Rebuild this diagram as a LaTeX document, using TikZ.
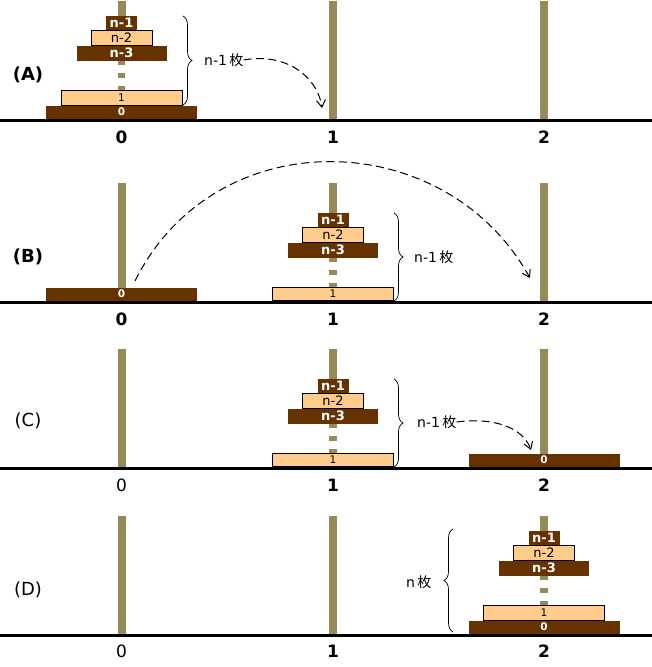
\documentclass[tikz,border=0pt]{standalone}
\usepackage{fontspec}
\setmainfont{DejaVu Sans}
\newfontfamily\jp{Noto Sans CJK JP}
\usetikzlibrary{arrows.meta,decorations.pathreplacing}
\definecolor{dk}{HTML}{663300}
\definecolor{lt}{HTML}{FFCC8C}
\definecolor{pegc}{HTML}{968A57}
\tikzset{
  disc/.style={inner sep=0pt, outer sep=0pt, anchor=north, minimum height=15pt},
  darkdisc/.style={disc, fill=dk, text=white, font=\fontsize{13}{13}\selectfont\bfseries},
  lightdisc/.style={disc, fill=lt, draw=black, line width=0.6pt, text=black, font=\fontsize{13}{13}\selectfont},
  smalllab/.style={font=\fontsize{10.5}{10.5}\selectfont\bfseries},
  smalllabr/.style={font=\fontsize{10.5}{10.5}\selectfont},
  pegdash/.style={draw=pegc, line width=7.5pt, dash pattern=on 5pt off 8pt},
  ground/.style={draw=black, line width=3pt},
  numlab/.style={font=\fontsize{17}{17}\selectfont\bfseries},
  numlabr/.style={font=\fontsize{17}{17}\selectfont},
  panlab/.style={font=\fontsize{18}{18}\selectfont\bfseries},
  panlabr/.style={font=\fontsize{18}{18}\selectfont},
  bracestyle/.style={draw=black, line width=0.7pt, decorate, decoration={brace, amplitude=9pt}},
  note/.style={anchor=west, inner sep=0pt, font=\fontsize{14}{14}\selectfont},
  movearrow/.style={draw=black, line width=1pt, dash pattern=on 8pt off 4.5pt, -{Straight Barb[length=7pt,width=9pt]}}
}
\begin{document}
\begin{tikzpicture}[x=1pt, y=-1pt]
\useasboundingbox (0,0) rectangle (652,667);
\fill[white] (0,0) rectangle (652,667);

% ================= Panel A (baseline 120) =================
\fill[pegc] (117.5,1) rectangle (125.5,60.5);
\draw[pegdash] (121.5,90.5) -- (121.5,60.5);
\fill[pegc] (329,1) rectangle (337,120);
\fill[pegc] (540,1) rectangle (548,120);
\draw[ground] (0,120) -- (652,120);
\node[darkdisc, minimum width=31pt] (a-n1) at (121.5,15.5) {n-1};
\node[lightdisc, minimum width=61pt] (a-n2) at (121.5,30.5) {n-2};
\node[darkdisc, minimum width=90pt] (a-n3) at (121.5,45.5) {n-3};
\node[lightdisc, minimum width=121pt, smalllabr] (a-d1) at (121.5,90.5) {1};
\node[darkdisc, minimum width=151pt, minimum height=13pt, smalllab] (a-d0) at (121.5,105.5) {0};
\node[numlab] (a-l0) at (121.5,137) {0};
\node[numlab] (a-l1) at (333,137) {1};
\node[numlab] (a-l2) at (544,137) {2};
\node[panlab] (a-lab) at (28,75) {(A)};
\draw[bracestyle] (183,16) -- (183,105);
\node[note] (a-t) at (204,60) {n-1\,{\jp 枚}};
\coordinate (a-e) at (322,108);
\draw[movearrow] (a-t.east) .. controls (287,52) and (318,78) .. (a-e);

% ================= Panel B (baseline 302) =================
\fill[pegc] (117.5,183) rectangle (125.5,302);
\fill[pegc] (329,183) rectangle (337,242.5);
\draw[pegdash] (333,287.5) -- (333,257.5);
\fill[pegc] (540,183) rectangle (548,302);
\draw[ground] (0,302) -- (652,302);
\node[darkdisc, minimum width=151pt, minimum height=13pt, smalllab] (b-d0) at (121.5,287.5) {0};
\node[darkdisc, minimum width=31pt] (b-n1) at (333,212.5) {n-1};
\node[lightdisc, minimum width=61pt] (b-n2) at (333,227.5) {n-2};
\node[darkdisc, minimum width=90pt] (b-n3) at (333,242.5) {n-3};
\node[lightdisc, minimum width=121pt, minimum height=13pt, smalllabr] (b-d1) at (333,287.5) {1};
\node[numlab] (b-l0) at (121.5,319) {0};
\node[numlab] (b-l1) at (333,319) {1};
\node[numlab] (b-l2) at (544,319) {2};
\node[panlab] (b-lab) at (28,257) {(B)};
\draw[bracestyle] (394,213) -- (394,301);
\node[note] (b-t) at (414,257) {n-1\,{\jp 枚}};
\coordinate (b-s) at (135,281);
\coordinate (b-e) at (530,278);
\draw[movearrow] (b-s) .. controls (215,120) and (445,125) .. (b-e);

% ================= Panel C (baseline 468) =================
\fill[pegc] (117.5,349) rectangle (125.5,468);
\fill[pegc] (329,349) rectangle (337,408.5);
\draw[pegdash] (333,453.5) -- (333,423.5);
\fill[pegc] (540,349) rectangle (548,468);
\draw[ground] (0,468) -- (652,468);
\node[darkdisc, minimum width=31pt] (c-n1) at (333,378.5) {n-1};
\node[lightdisc, minimum width=61pt] (c-n2) at (333,393.5) {n-2};
\node[darkdisc, minimum width=90pt] (c-n3) at (333,408.5) {n-3};
\node[lightdisc, minimum width=121pt, minimum height=13pt, smalllabr] (c-d1) at (333,453.5) {1};
\node[darkdisc, minimum width=151pt, minimum height=13pt, smalllab] (c-d0) at (544,453.5) {0};
\node[numlabr] (c-l0) at (121.5,485) {0};
\node[numlab] (c-l1) at (333,485) {1};
\node[numlab] (c-l2) at (544,485) {2};
\node[panlabr] (c-lab) at (28,421) {(C)};
\draw[bracestyle] (394,379) -- (394,467);
\node[note] (c-t) at (417,422) {n-1\,{\jp 枚}};
\coordinate (c-e) at (531,450);
\draw[movearrow] (c-t.east) .. controls (495,417) and (523,428) .. (c-e);

% ================= Panel D (baseline 635) =================
\fill[pegc] (117.5,516) rectangle (125.5,635);
\fill[pegc] (329,516) rectangle (337,635);
\fill[pegc] (540,516) rectangle (548,575.5);
\draw[pegdash] (544,605.5) -- (544,575.5);
\draw[ground] (0,635) -- (652,635);
\node[darkdisc, minimum width=31pt] (d-n1) at (544,530.5) {n-1};
\node[lightdisc, minimum width=61pt] (d-n2) at (544,545.5) {n-2};
\node[darkdisc, minimum width=90pt] (d-n3) at (544,560.5) {n-3};
\node[lightdisc, minimum width=121pt, smalllabr] (d-d1) at (544,605.5) {1};
\node[darkdisc, minimum width=151pt, minimum height=13pt, smalllab] (d-d0) at (544,620.5) {0};
\node[numlabr] (d-l0) at (121.5,651) {0};
\node[numlab] (d-l1) at (333,651) {1};
\node[numlab] (d-l2) at (544,651) {2};
\node[panlabr] (d-lab) at (28,590) {(D)};
\draw[bracestyle] (453,632) -- (453,529);
\node[note] (d-t) at (406,582) {n\,{\jp 枚}};
\end{tikzpicture}
\end{document}
